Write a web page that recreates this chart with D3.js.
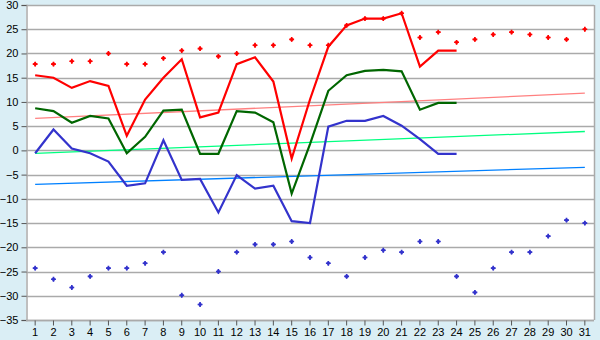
<!DOCTYPE html>
<html>
<head>
<meta charset="utf-8">
<script src="https://cdn.jsdelivr.net/npm/d3@7"></script>
<style>
  body { margin: 0; background: #daeef5; }
  svg { display: block; font-family: "DejaVu Sans", Verdana, sans-serif; }
</style>
</head>
<body>
<svg id="chart"></svg>
<script>
// Chart values
const days = d3.range(1, 32);

const redPoints = [17.8, 17.8, 18.4, 18.4, 20.0, 17.8, 17.8, 19.0, 20.6, 21.0,
  19.4, 20.0, 21.7, 21.7, 22.9, 21.7, 21.7, 25.8, 27.2, 27.2,
  28.3, 23.3, 24.4, 22.3, 22.9, 23.9, 24.4, 23.9, 23.3, 22.9, 25.0];

const redLine = [15.5, 15.0, 12.9, 14.3, 13.3, 3.0, 10.5, 15.0, 18.8, 6.8,
  7.8, 17.8, 19.2, 14.2, -1.7, 10.5, 21.4, 25.8, 27.2, 27.2,
  28.3, 17.3, 20.6, 20.6, null, null, null, null, null, null, null];

const greenLine = [8.7, 8.1, 5.7, 7.1, 6.6, -0.6, 2.8, 8.2, 8.4, -0.7,
  -0.7, 8.1, 7.8, 5.8, -8.9, 1.3, 12.3, 15.5, 16.4, 16.6,
  16.3, 8.4, 9.8, 9.8, null, null, null, null, null, null, null];

const blueLine = [-0.6, 4.3, 0.4, -0.6, -2.3, -7.3, -6.8, 2.1, -6.1, -5.9,
  -12.8, -5.1, -7.9, -7.3, -14.6, -15.0, 4.9, 6.1, 6.1, 7.1,
  5.1, 2.3, -0.7, -0.7, null, null, null, null, null, null, null];

const bluePoints = [-24.3, -26.6, -28.3, -26.0, -24.3, -24.3, -23.3, -21.0, -29.9, -31.8,
  -25.0, -21.0, -19.4, -19.4, -18.8, -22.1, -23.3, -26.0, -22.1, -20.6,
  -21.0, -18.8, -18.8, -26.0, -29.3, -24.3, -21.0, -21.0, -17.7, -14.4, -15.0];

// trend lines: value at day 1 and day 31
const trendNames = ["red", "green", "blue"];
const trendStart = [6.6, -0.6, -7.0];
const trendEnd = [11.8, 3.9, -3.5];

const yTicks = d3.range(-35, 31, 5);

const width = 600;
const height = 340;
const plot = { left: 26, right: 594, top: 5, bottom: 320 };

const svg = d3.select("#chart")
  .attr("width", width)
  .attr("height", height);

const x = d3.scaleBand()
  .domain(days)
  .range([plot.left, plot.right])
  .paddingInner(0)
  .paddingOuter(0);

const cx = d => x(d) + x.bandwidth() / 2;

const y = d3.scaleLinear()
  .domain([-35, 30])
  .range([plot.bottom, plot.top]);

// plot background
svg.append("rect")
  .attr("x", plot.left)
  .attr("y", plot.top)
  .attr("width", plot.right - plot.left)
  .attr("height", plot.bottom - plot.top)
  .attr("fill", "#ffffff");

// gridlines
svg.append("g")
  .selectAll("line")
  .data(yTicks)
  .enter()
  .append("line")
  .attr("x1", plot.left)
  .attr("x2", plot.right)
  .attr("y1", d => Math.round(y(d)) + 0.5)
  .attr("y2", d => Math.round(y(d)) + 0.5)
  .attr("stroke", "#aaaaaa")
  .attr("stroke-width", 1.5);

// right border
svg.append("line")
  .attr("x1", plot.right + 0.5).attr("x2", plot.right + 0.5)
  .attr("y1", plot.top).attr("y2", plot.bottom)
  .attr("stroke", "#aaaaaa")
  .attr("stroke-width", 1.5);

// y axis
const yAxis = svg.append("g")
  .attr("transform", `translate(${plot.left + 0.5},0)`)
  .call(d3.axisLeft(y).tickValues(yTicks).tickSize(5).tickPadding(3));

// x axis
const xAxis = svg.append("g")
  .attr("transform", `translate(0,${plot.bottom + 0.5})`)
  .call(d3.axisBottom(x).tickSize(5).tickPadding(3));

[yAxis, xAxis].forEach(ax => {
  ax.select(".domain").attr("stroke", "#aaaaaa").attr("stroke-width", 1.5);
  ax.selectAll(".tick line").attr("stroke", "#555555");
  ax.selectAll("text").attr("fill", "#000000").style("font-size", "11px");
});
xAxis.select(".domain").attr("d", `M${plot.left},0H${plot.right}`);

// trend lines
const trendColors = ["#ff8080", "#00ff80", "#0080ff"];
svg.append("g")
  .selectAll("line")
  .data(trendNames)
  .enter()
  .append("line")
  .attr("x1", cx(1))
  .attr("x2", cx(31))
  .attr("y1", (d, i) => y(trendStart[i]))
  .attr("y2", (d, i) => y(trendEnd[i]))
  .attr("stroke", (d, i) => trendColors[i])
  .attr("stroke-width", 1.3);

// main lines
const line = d3.line()
  .defined(d => d[1] !== null)
  .x(d => cx(d[0]))
  .y(d => y(d[1]));

const series = [
  { values: blueLine, color: "#3333cc" },
  { values: greenLine, color: "#006600" },
  { values: redLine, color: "#ff0000" }
];

series.forEach(s => {
  svg.append("path")
    .datum(days.map((d, i) => [d, s.values[i]]))
    .attr("fill", "none")
    .attr("stroke", s.color)
    .attr("stroke-width", 2.2)
    .attr("d", line);
});

// point markers: small diamond with short arms
const marker = d3.symbol().type(d3.symbolCross).size(13);

[{ values: redPoints, color: "#ff0000" }, { values: bluePoints, color: "#3333cc" }].forEach(s => {
  const pts = days.map((d, i) => [d, s.values[i]]);
  const g = svg.append("g");
  g.selectAll("path")
    .data(pts)
    .enter()
    .append("path")
    .attr("transform", d => `translate(${cx(d[0])},${y(d[1])})`)
    .attr("d", marker)
    .attr("fill", s.color);
  g.selectAll("rect")
    .data(pts)
    .enter()
    .append("rect")
    .attr("x", -1.6).attr("y", -1.6)
    .attr("width", 3.2).attr("height", 3.2)
    .attr("transform", d => `translate(${cx(d[0])},${y(d[1])}) rotate(45)`)
    .attr("fill", s.color);
});
</script>
</body>
</html>
